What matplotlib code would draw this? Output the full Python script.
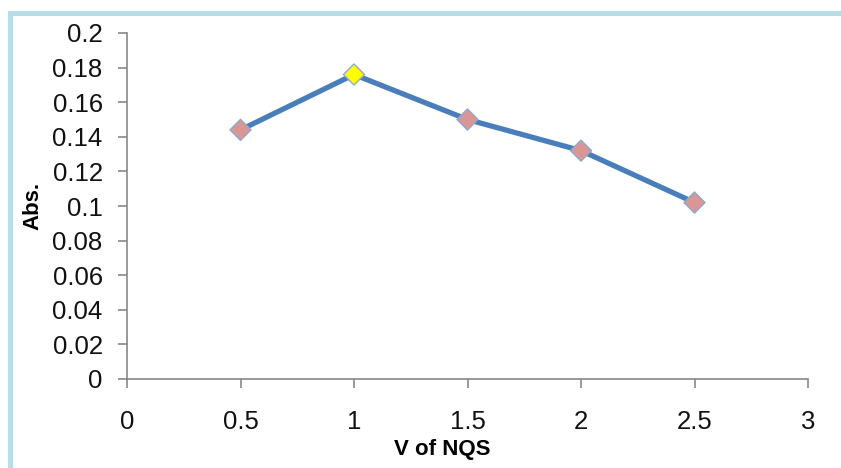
import matplotlib.pyplot as plt
from matplotlib.patches import Rectangle

# Data
volume = [0.5, 1.0, 1.5, 2.0, 2.5]
absorbance = [0.144, 0.176, 0.150, 0.132, 0.102]
highlight_idx = 1  # yellow marker at V = 1

x_ticks = [0, 0.5, 1, 1.5, 2, 2.5, 3]
x_tick_labels = ["0", "0.5", "1", "1.5", "2", "2.5", "3"]
y_ticks = [0, 0.02, 0.04, 0.06, 0.08, 0.1, 0.12, 0.14, 0.16, 0.18, 0.2]
y_tick_labels = ["0", "0.02", "0.04", "0.06", "0.08", "0.1", "0.12", "0.14", "0.16", "0.18", "0.2"]

plt.rcParams["font.family"] = ["Liberation Sans", "DejaVu Sans"]

W, H = 841, 468
fig = plt.figure(figsize=(W / 100, H / 100), dpi=100)

# light blue chart frame (only left and top edges visible)
frame_col = "#B7DDE8"
fig.add_artist(Rectangle((8 / W, 0), 5 / W, 1 - 11 / H, transform=fig.transFigure,
                         color=frame_col, lw=0))
fig.add_artist(Rectangle((8 / W, 1 - 16 / H), 1, 5 / H, transform=fig.transFigure,
                         color=frame_col, lw=0))

ax = fig.add_axes([127 / W, 1 - 379 / H, (808 - 127) / W, (379 - 33) / H])

ax.plot(volume, absorbance, color="#4A7EBB", lw=3.8, zorder=2)
colors = ["#FFFF00" if i == highlight_idx else "#D99694" for i in range(len(volume))]
ax.scatter(volume, absorbance, marker="D", s=115, c=colors,
           edgecolors="#8EA9CF", linewidths=1.0, zorder=3)

ax.set_xlim(0, 3)
ax.set_ylim(0, 0.2)
ax.set_xticks(x_ticks)
ax.set_xticklabels(x_tick_labels)
ax.set_yticks(y_ticks)
ax.set_yticklabels(y_tick_labels)

for side in ("top", "right"):
    ax.spines[side].set_visible(False)
for side in ("left", "bottom"):
    ax.spines[side].set_color("#888888")
    ax.spines[side].set_linewidth(1.2)

ax.tick_params(axis="both", direction="out", length=6.5, width=1.2, color="#888888",
               labelsize=18.5, labelcolor="#111111")
ax.tick_params(axis="x", pad=16)
ax.tick_params(axis="y", pad=11)

ax.set_xlabel("V of NQS", fontsize=16, fontweight="bold")
ax.set_ylabel("Abs.", fontsize=16, fontweight="bold")
ax.xaxis.set_label_coords((442 - 127) / (808 - 127), -(449 - 379) / (379 - 33))
ax.yaxis.set_label_coords(-(127 - 33) / (808 - 127), 0.5)
ax.xaxis.label.set_va("center")
ax.yaxis.label.set_va("center")

fig.savefig("out.png", dpi=100)
